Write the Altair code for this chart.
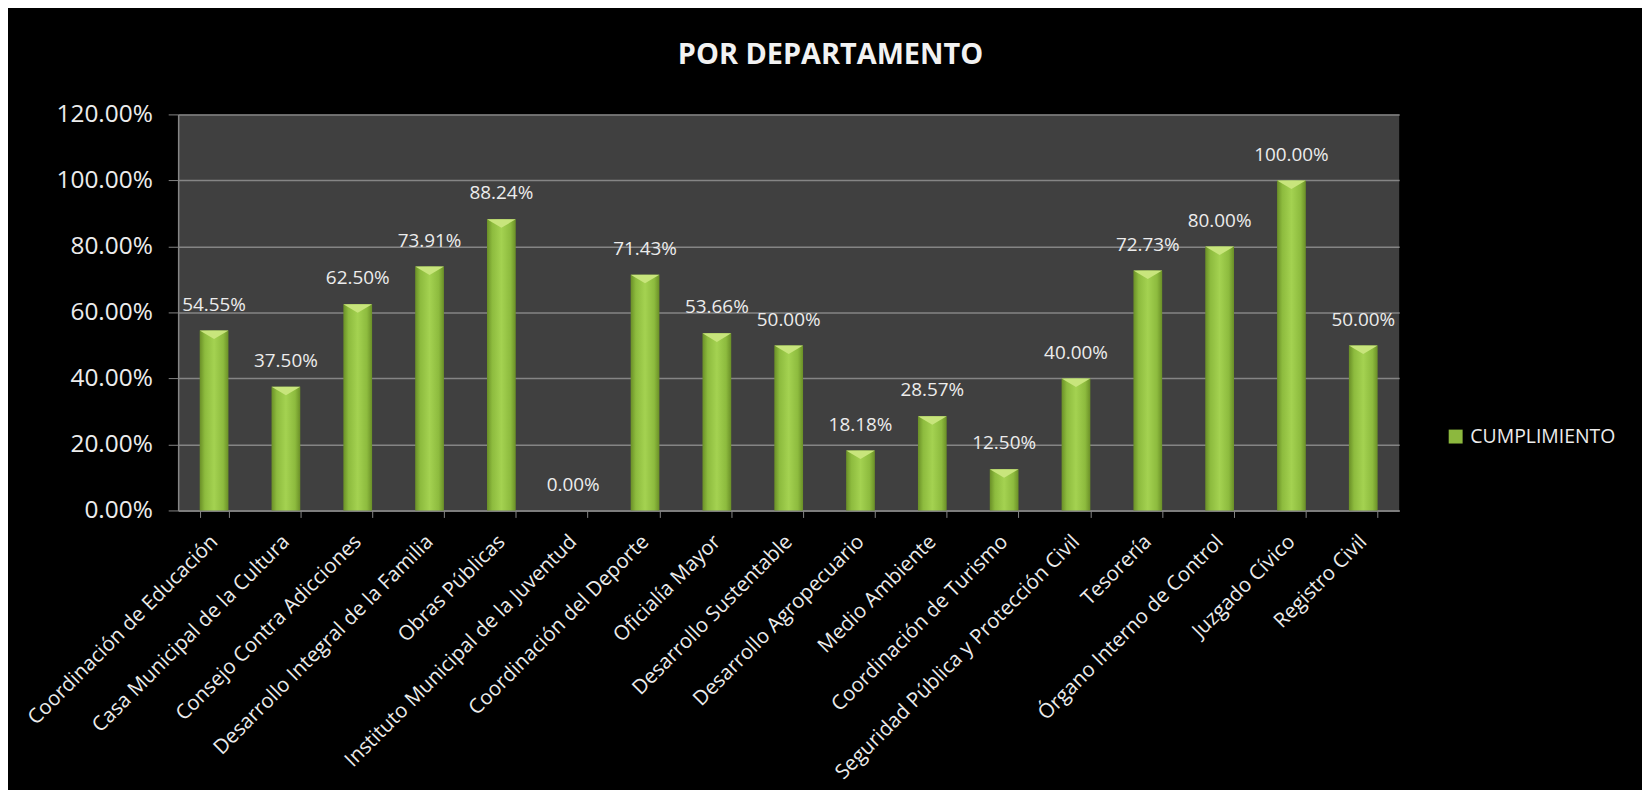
import altair as alt
import pandas as pd

departamentos = [
    "Coordinación de Educación",
    "Casa Municipal de la Cultura",
    "Consejo Contra Adicciones",
    "Desarrollo Integral de la Familia",
    "Obras Públicas",
    "Instituto Municipal de la Juventud",
    "Coordinación del Deporte",
    "Oficialía Mayor",
    "Desarrollo Sustentable",
    "Desarrollo Agropecuario",
    "Medio Ambiente",
    "Coordinación de Turismo",
    "Seguridad Pública y Protección Civil",
    "Tesorería",
    "Órgano Interno de Control",
    "Juzgado Cívico",
    "Registro Civil",
]
cumplimiento = [
    0.5455, 0.3750, 0.6250, 0.7391, 0.8824, 0.0000, 0.7143, 0.5366, 0.5000,
    0.1818, 0.2857, 0.1250, 0.4000, 0.7273, 0.8000, 1.0000, 0.5000,
]
serie = "CUMPLIMIENTO"
y_ticks = [0.0, 0.2, 0.4, 0.6, 0.8, 1.0, 1.2]

df = pd.DataFrame({"dep": departamentos, "val": cumplimiento, "serie": serie})

FONT = "Open Sans"
TXT = "#ececec"
GRID = "#858585"

x_enc = alt.X(
    "dep:N",
    sort=departamentos,
    title=None,
    scale=alt.Scale(paddingInner=0.6, paddingOuter=0.3),
    axis=alt.Axis(
        labelAngle=-45,
        labelAlign="right",
        labelBaseline="middle",
        labelFontSize=20.5,
        labelFont=FONT,
        labelColor=TXT,
        labelPadding=21,
        labelLimit=0,
        tickBand="extent",
        tickSize=7,
        tickColor=GRID,
        domainColor=GRID,
        domainWidth=1.5,
        grid=False,
    ),
)
y_enc = alt.Y(
    "val:Q",
    title=None,
    scale=alt.Scale(domain=[0, 1.2], nice=False),
    axis=alt.Axis(
        values=y_ticks,
        format=".2%",
        labelFontSize=24.5,
        labelFont=FONT,
        labelColor=TXT,
        labelPadding=16,
        tickSize=10,
        tickColor=GRID,
        domainColor=GRID,
        domainWidth=1.5,
        gridColor=GRID,
        gridWidth=1.5,
    ),
)

grad = alt.Gradient(
    gradient="linear",
    x1=0, x2=1, y1=0, y2=0,
    stops=[
        alt.GradientStop(color="#6a8f27", offset=0),
        alt.GradientStop(color="#8dbb3e", offset=0.18),
        alt.GradientStop(color="#a4d251", offset=0.5),
        alt.GradientStop(color="#8dbb3e", offset=0.82),
        alt.GradientStop(color="#6a8f27", offset=1),
    ],
)

base = alt.Chart(df)

bars = base.mark_bar(color=grad).encode(x=x_enc, y=y_enc)

caps = base.transform_filter("datum.val > 0").mark_point(
    shape="M-1,0L1,0L0,0.6Z",
    filled=True,
    color="#c8e57c",
    opacity=1,
    size=830,
    strokeWidth=0,
).encode(x=x_enc, y=y_enc)

labels = base.mark_text(
    baseline="bottom",
    dy=-16,
    fontSize=19,
    font=FONT,
    color=TXT,
).encode(x=x_enc, y=y_enc, text=alt.Text("val:Q", format=".2%"))

legend_layer = base.mark_square(opacity=0).encode(
    x=x_enc,
    y=y_enc,
    color=alt.Color(
        "serie:N",
        scale=alt.Scale(range=["#8cb83e"]),
        legend=alt.Legend(
            title=None,
            orient="none",
            legendX=1274,
            legendY=314,
            symbolType="square",
            symbolSize=196,
            symbolOpacity=1,
            symbolStrokeWidth=0,
            labelFontSize=19.5,
            labelFont=FONT,
            labelColor=TXT,
            labelOffset=5,
            padding=0,
        ),
    ),
)

chart = (
    alt.layer(bars, caps, labels, legend_layer)
    .properties(
        width=1227,
        height=398,
        autosize=alt.AutoSizeParams(type="none"),
        padding={"left": 171, "top": 105, "right": 244, "bottom": 279},
        background="black",
        title=alt.TitleParams(
            "POR DEPARTAMENTO",
            font=FONT,
            fontSize=29,
            fontWeight="bold",
            color="#f2f2f2",
            anchor="middle",
            frame="group",
            baseline="middle",
            offset=18,
            dx=42,
        ),
    )
    .configure_view(fill="#404040", stroke=None)
)

chart.save("out.html", embed_options={"renderer": "svg", "actions": False})
